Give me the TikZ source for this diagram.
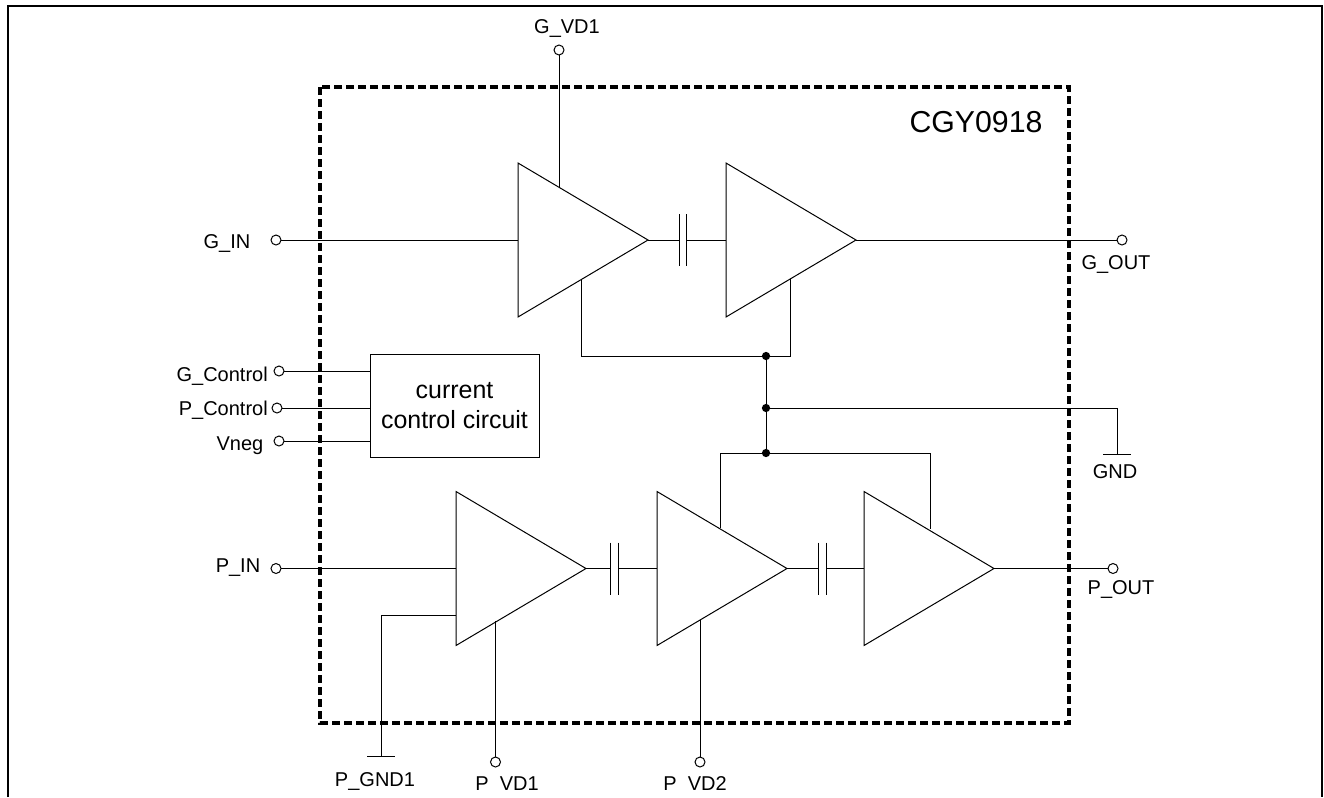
\documentclass[tikz,border=0pt]{standalone}
\usepackage{fontspec}
\setmainfont{Liberation Sans}
\usetikzlibrary{shapes.geometric, calc}
\tikzset{
    amp/.style={isosceles triangle, isosceles triangle stretches, draw, anchor=lower side, minimum width=115.5pt, minimum height=97.5pt, inner sep=0pt, outer sep=0pt, line width=0.75pt},
    port/.style={circle, draw, minimum size=7.5pt, inner sep=0pt, outer sep=0pt, line width=0.75pt},
    joint/.style={circle, fill=black, minimum size=6.2pt, inner sep=0pt, outer sep=0pt},
    tag/.style={inner sep=0pt, font=\fontsize{15}{17}\selectfont},
    wire/.style={line width=0.75pt},
    chipbox/.style={line width=2.5pt, dash pattern=on 6pt off 3pt}
}

\begin{document}
\begin{tikzpicture}[x=0.75pt, y=-0.75pt]
    \useasboundingbox (0,0) rectangle (1324,797);
    \draw [line width=1.5pt] (8,797) -- (8,6) -- (1322,6) -- (1322,797);
    \draw [chipbox] (320,87) rectangle (1069,723);
    \node (chip) [inner sep=0pt, font=\fontsize{22.7}{25}\selectfont] at (976,122) {CGY0918};

    % amplifiers
    \node (g1) [amp] at (518,240) {};
    \node (g2) [amp] at (726,240) {};
    \node (p1) [amp] at (456,568.5) {};
    \node (p2) [amp] at (657,568.5) {};
    \node (p3) [amp] at (864,568.5) {};
    \node (ctrl) [draw, wire, minimum width=126.75pt, minimum height=77.25pt, inner sep=0pt, outer sep=0pt, align=center, font=\fontsize{18.7}{22}\selectfont] at (454.5,405.5) {current\\control circuit};

    % pins
    \node (gvd) [port] at (559,50) {};
    \node (gin) [port] at (276,240) {};
    \node (gout) [port] at (1122,240) {};
    \node (gc) [port] at (279,371) {};
    \node (pc) [port] at (277,408) {};
    \node (vn) [port] at (279,441) {};
    \node (pin) [port] at (276,568.5) {};
    \node (pout) [port] at (1113,568.5) {};
    \node (pvd1) [port] at (495.5,762) {};
    \node (pvd2) [port] at (700,762) {};

    % labels
    \node (tgvd) [tag] at (567,29) {G\_VD1};
    \node (tgin) [tag] at (227,243) {G\_IN};
    \node (tgout) [tag] at (1116,264) {G\_OUT};
    \node (tgc) [tag, anchor=east] at (268,376) {G\_Control};
    \node (tpc) [tag, anchor=east] at (268,410) {P\_Control};
    \node (tvn) [tag] at (240,446) {Vneg};
    \node (tpin) [tag] at (238,568) {P\_IN};
    \node (tpout) [tag] at (1121,589) {P\_OUT};
    \node (tgnd) [tag] at (1115,472) {GND};
    \node (tpg) [tag] at (375,781) {P\_GND1};
    \node (tpvd1) [tag] at (507,784) {P\ \ VD1};
    \node (tpvd2) [tag] at (695,784) {P\ \ VD2};

    % tap points
    \coordinate (g1t) at (559,187);
    \coordinate (g1b) at (581,280);
    \coordinate (g2b) at (790,279);
    \coordinate (p1s) at (456,615);
    \coordinate (p1b) at (495.5,621);
    \coordinate (p2t) at (720,528);
    \coordinate (p2b) at (700,620);
    \coordinate (p3t) at (930,529);
    \node (j1) [joint] at (766,356) {};
    \node (j2) [joint] at (766,408) {};
    \node (j3) [joint] at (766,453) {};
    \coordinate (gnd) at (1117,454);
    \coordinate (pgnd) at (381,756);

    % capacitors
    \coordinate (c1a) at (679,240);
    \coordinate (c1b) at (686,240);
    \coordinate (c2a) at (610,568.5);
    \coordinate (c2b) at (618,568.5);
    \coordinate (c3a) at (818,568.5);
    \coordinate (c3b) at (826,568.5);
    \foreach \c in {c1a,c1b,c2a,c2b,c3a,c3b}
        \draw [wire] ([yshift=19.5pt]\c) -- ([yshift=-19.5pt]\c);

    % wires
    \draw [wire] (gvd) -- (g1t);
    \draw [wire] (gin) -- (g1.lower side);
    \draw [wire] (g1.apex) -- (c1a);
    \draw [wire] (c1b) -- (g2.lower side);
    \draw [wire] (g2.apex) -- (gout);
    \draw [wire] (g1b) |- (j1) -| (g2b);
    \draw [wire] (j1) -- (j2);
    \draw [wire] (j2) -- (j3);
    \draw [wire] (j2) -| (gnd);
    \draw [wire] (p2t) |- (j3) -| (p3t);
    \draw [wire] (gc) -- (gc -| ctrl.west);
    \draw [wire] (pc) -- (pc -| ctrl.west);
    \draw [wire] (vn) -- (vn -| ctrl.west);
    \draw [wire] (pin) -- (p1.lower side);
    \draw [wire] (p1.apex) -- (c2a);
    \draw [wire] (c2b) -- (p2.lower side);
    \draw [wire] (p2.apex) -- (c3a);
    \draw [wire] (c3b) -- (p3.lower side);
    \draw [wire] (p3.apex) -- (pout);
    \draw [wire] (p1s) -| (pgnd);
    \draw [wire] (p1b) -- (pvd1);
    \draw [wire] (p2b) -- (pvd2);
    \draw [wire] ([xshift=-10.5pt]gnd) -- ([xshift=10.5pt]gnd);
    \draw [wire] ([xshift=-10.5pt]pgnd) -- ([xshift=10.5pt]pgnd);
\end{tikzpicture}
\end{document}
